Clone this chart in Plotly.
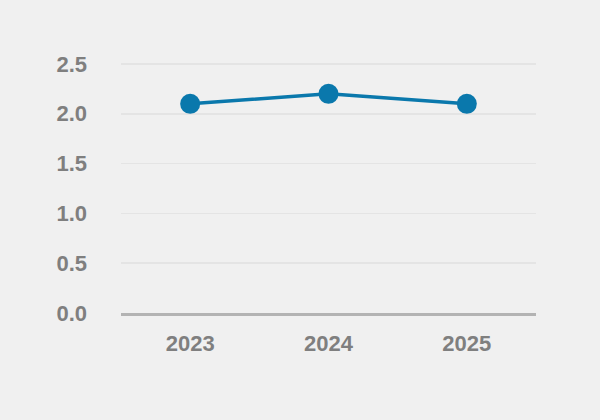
import plotly.graph_objects as go

years = ["2023", "2024", "2025"]
values = [2.1, 2.2, 2.1]
y_ticks = [0.0, 0.5, 1.0, 1.5, 2.0, 2.5]
y_tick_labels = ["0.0", "0.5", "1.0", "1.5", "2.0", "2.5"]

fig = go.Figure(go.Scatter(
    x=years, y=values, mode="lines+markers",
    line=dict(color="#0a78ac", width=3.5),
    marker=dict(size=20, color="#0a78ac"),
    hoverinfo="skip",
))

font = dict(family="Liberation Sans Narrow, Arial Narrow, Liberation Sans, sans-serif",
            size=22, color="#7f7f7f", weight="bold")

fig.update_layout(
    width=600, height=420,
    paper_bgcolor="#f0f0f0", plot_bgcolor="#f0f0f0",
    margin=dict(l=121, r=64, t=62, b=107),
    showlegend=False,
    font=font,
    xaxis=dict(
        type="category", range=[-0.5, 2.5],
        showgrid=False, showline=True, linecolor="#b3b3b3", linewidth=3,
        ticks="", tickfont=font, ticklabelstandoff=9,
        zeroline=False,
    ),
    yaxis=dict(
        range=[0, 2.52], tickvals=y_ticks, ticktext=y_tick_labels,
        showgrid=True, gridcolor="#e4e4e4", gridwidth=1.5,
        zeroline=False, showline=False, ticks="",
        tickfont=font, ticklabelstandoff=33,
    ),
)

post = (
    "document.body.style.margin='0';"
    "document.body.style.background='#f0f0f0';"
)
fig.write_html("out.html", post_script=post, config={"displayModeBar": False, "staticPlot": True})
